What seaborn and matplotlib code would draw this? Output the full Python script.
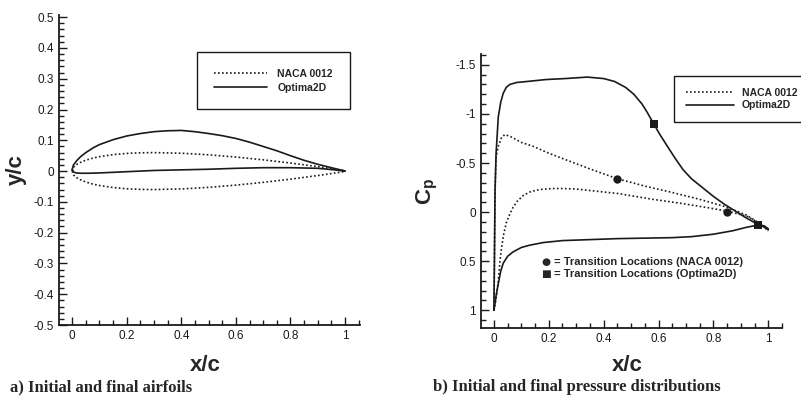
# -*- coding: utf-8 -*-
"""
Airfoil shape and Cp comparison, NACA 0012 vs Optima2D
"""

import matplotlib.pyplot as plt
import matplotlib.ticker as mticker
import seaborn as sns
import pandas as pd

sns.set_theme(style="ticks", rc={"axes.spines.right": False, "axes.spines.top": False})
plt.rcParams["font.family"] = ["Liberation Sans", "DejaVu Sans"]
plt.rcParams["axes.unicode_minus"] = False
plt.rcParams["mathtext.fontset"] = "custom"
plt.rcParams["mathtext.bf"] = "Liberation Sans:bold"
plt.rcParams["mathtext.rm"] = "Liberation Sans"

#%% Data
# a) airfoil shapes
naca_x = [0.0, 0.005, 0.0125, 0.025, 0.05, 0.075, 0.1, 0.15, 0.2, 0.25, 0.3,
          0.4, 0.5, 0.6, 0.7, 0.8, 0.9, 0.95, 1.0]
naca_upper_y = [0.0, 0.0124, 0.0189, 0.0262, 0.0355, 0.0419, 0.0468, 0.0534, 0.0574,
                0.0594, 0.0600, 0.0580, 0.0529, 0.0456, 0.0366, 0.0262, 0.0145, 0.0081, 0.0013]
naca_lower_y = [0.0, -0.0124, -0.0189, -0.0262, -0.0355, -0.0419, -0.0468, -0.0534, -0.0574,
                -0.0594, -0.0600, -0.0580, -0.0529, -0.0456, -0.0366, -0.0262, -0.0145, -0.0081, -0.0013]

opt_upper_x = [0.0, 0.005, 0.017, 0.03, 0.05, 0.078, 0.1, 0.15, 0.2, 0.25, 0.3, 0.35,
               0.4, 0.45, 0.5, 0.55, 0.6, 0.65, 0.7, 0.75, 0.8, 0.85, 0.9, 0.95, 1.0]
opt_upper_y = [0.005, 0.02, 0.034, 0.046, 0.06, 0.076, 0.086, 0.102, 0.114, 0.122, 0.128, 0.131,
               0.132, 0.128, 0.122, 0.115, 0.106, 0.094, 0.080, 0.066, 0.050, 0.035, 0.022, 0.011, 0.0]
opt_lower_x = [0.0, 0.005, 0.015, 0.03, 0.06, 0.1, 0.15, 0.2, 0.3, 0.4, 0.5, 0.6,
               0.7, 0.8, 0.9, 0.95, 1.0]
opt_lower_y = [0.005, -0.003, -0.006, -0.007, -0.007, -0.006, -0.004, -0.002, 0.002, 0.004,
               0.006, 0.009, 0.011, 0.011, 0.009, 0.005, 0.0]

# b) pressure distributions
cp_naca_upper_x = [0.0, 0.002, 0.005, 0.008, 0.016, 0.028, 0.04, 0.06, 0.1, 0.143, 0.2,
                   0.265, 0.35, 0.45, 0.55, 0.65, 0.75, 0.85, 0.92, 0.96, 1.0]
cp_naca_upper = [1.0, 0.4, -0.3, -0.56, -0.67, -0.76, -0.79, -0.77, -0.71, -0.67, -0.60,
                 -0.53, -0.44, -0.34, -0.265, -0.20, -0.13, -0.05, 0.03, 0.10, 0.19]
cp_naca_lower_x = [0.0, 0.005, 0.01, 0.016, 0.022, 0.028, 0.036, 0.046, 0.058, 0.07, 0.085,
                   0.107, 0.135, 0.168, 0.21, 0.253, 0.3, 0.35, 0.45, 0.58, 0.68, 0.78,
                   0.85, 0.92, 0.96, 1.0]
cp_naca_lower = [1.0, 0.93, 0.84, 0.70, 0.50, 0.36, 0.22, 0.10, 0.02, -0.05, -0.11,
                 -0.17, -0.21, -0.23, -0.24, -0.24, -0.235, -0.22, -0.19, -0.13, -0.09, -0.045,
                 -0.01, 0.04, 0.10, 0.18]

cp_opt_upper_x = [0.0, 0.002, 0.004, 0.008, 0.016, 0.025, 0.034, 0.045, 0.058, 0.083, 0.12,
                  0.19, 0.26, 0.34, 0.40, 0.44, 0.48, 0.51, 0.54, 0.56, 0.58, 0.605, 0.63,
                  0.66, 0.69, 0.72, 0.76, 0.80, 0.84, 0.88, 0.92, 0.965, 0.985, 1.0]
cp_opt_upper = [1.0, 0.5, -0.2, -0.6, -0.97, -1.12, -1.21, -1.27, -1.30, -1.32, -1.33,
                -1.35, -1.36, -1.375, -1.36, -1.33, -1.27, -1.20, -1.10, -1.01, -0.91, -0.79, -0.68,
                -0.55, -0.43, -0.34, -0.25, -0.16, -0.08, -0.01, 0.06, 0.13, 0.15, 0.18]
cp_opt_lower_x = [0.0, 0.004, 0.008, 0.016, 0.025, 0.034, 0.05, 0.07, 0.1, 0.13, 0.18, 0.25,
                  0.35, 0.45, 0.55, 0.65, 0.72, 0.8, 0.87, 0.92, 0.965, 0.985, 1.0]
cp_opt_lower = [1.0, 0.93, 0.85, 0.73, 0.6, 0.52, 0.45, 0.405, 0.36, 0.337, 0.31, 0.29,
                0.28, 0.27, 0.265, 0.26, 0.25, 0.225, 0.19, 0.155, 0.13, 0.14, 0.17]

# transition points
trans_naca_x = [0.45, 0.85]
trans_naca_cp = [-0.34, -0.003]
trans_opt_x = [0.582, 0.963]
trans_opt_cp = [-0.90, 0.13]

foils = ["NACA 0012", "Optima2D"]
dashes = {"NACA 0012": (1, 1.4), "Optima2D": ""}

#%% Build tables
def surf(x, y, foil, side, ycol):
    return pd.DataFrame({"x": x, ycol: y, "foil": foil, "surface": foil + side})

shape = pd.concat([
    surf(naca_x, naca_upper_y, "NACA 0012", "-u", "y"),
    surf(naca_x, naca_lower_y, "NACA 0012", "-l", "y"),
    surf(opt_upper_x, opt_upper_y, "Optima2D", "-u", "y"),
    surf(opt_lower_x, opt_lower_y, "Optima2D", "-l", "y"),
])
press = pd.concat([
    surf(cp_naca_upper_x, cp_naca_upper, "NACA 0012", "-u", "cp"),
    surf(cp_naca_lower_x, cp_naca_lower, "NACA 0012", "-l", "cp"),
    surf(cp_opt_upper_x, cp_opt_upper, "Optima2D", "-u", "cp"),
    surf(cp_opt_lower_x, cp_opt_lower, "Optima2D", "-l", "cp"),
])

#%% Figure
fig = plt.figure(figsize=(8.01, 3.98), dpi=100)
ax1 = fig.add_axes([0.0737, 0.1834, 0.3758, 0.7789])
ax2 = fig.add_axes([0.6005, 0.1759, 0.3758, 0.6884])

sns.lineplot(shape, x="x", y="y", units="surface", estimator=None, sort=False,
             style="foil", style_order=foils, dashes=dashes, color="k", lw=1.2, ax=ax1)
sns.lineplot(press, x="x", y="cp", units="surface", estimator=None, sort=False,
             style="foil", style_order=foils, dashes=dashes, color="k", lw=1.2, ax=ax2)
sns.scatterplot(x=trans_naca_x, y=trans_naca_cp, marker="o", s=36, color="k",
                edgecolor="k", linewidth=0, ax=ax2, zorder=5)
sns.scatterplot(x=trans_opt_x, y=trans_opt_cp, marker="s", s=34, color="k",
                edgecolor="k", linewidth=0, ax=ax2, zorder=5)

fmt = mticker.FuncFormatter(lambda v, p: "{:g}".format(round(v, 2) + 0))

for ax in [ax1, ax2]:
    ax.xaxis.set_major_locator(mticker.MultipleLocator(0.2))
    ax.xaxis.set_minor_locator(mticker.MultipleLocator(0.05))
    ax.xaxis.set_major_formatter(fmt)
    ax.yaxis.set_major_formatter(fmt)
    ax.tick_params(which="both", direction="in", width=1, colors="k", labelsize=8.5,
                   top=False, right=False)
    ax.tick_params(which="major", length=5.5, pad=3.5)
    ax.tick_params(which="minor", length=3.5)
    for sp in ["left", "bottom"]:
        ax.spines[sp].set_linewidth(1.3)
        ax.spines[sp].set_color("k")
    ax.set_xlabel("x/c", fontsize=16, fontweight="bold")
    ax.xaxis.set_label_coords(0.485, -0.098)

    handles, labels = ax.get_legend_handles_labels()
    keep = [(h, l) for h, l in zip(handles, labels) if l in foils]
    handles = [h for h, l in keep]
    labels = [l for h, l in keep]
    for h in handles:
        h.set_color("k")
        h.set_linewidth(1.2)
    ax.legend_ = None
    ax._keep = (handles, labels)

ax1.set_xlim(-0.048, 1.055)
ax1.set_ylim(-0.5, 0.507)
ax1.yaxis.set_major_locator(mticker.MultipleLocator(0.1))
ax1.yaxis.set_minor_locator(mticker.MultipleLocator(0.02))
ax1.set_ylabel("y/c", fontsize=16, fontweight="bold")
ax1.yaxis.set_label_coords(-0.106, 0.5)

ax2.set_xlim(-0.047, 1.05)
ax2.set_ylim(1.18, -1.61)
ax2.yaxis.set_major_locator(mticker.MultipleLocator(0.5))
ax2.yaxis.set_minor_locator(mticker.MultipleLocator(0.1))
ax2.set_ylabel(r"$\mathbf{C_p}$", fontsize=16)
ax2.yaxis.set_label_coords(-0.136, 0.5)

leg_font = {"weight": "bold", "size": 7.5}
leg1 = ax1.legend(*ax1._keep, loc="upper left", bbox_to_anchor=(0.2397, 0.8819),
                  bbox_transform=fig.transFigure, prop=leg_font, frameon=True,
                  fancybox=False, edgecolor="k", framealpha=1, borderpad=1.6,
                  handlelength=5.1, handletextpad=1.0, labelspacing=0.35)
leg1.get_frame().set_linewidth(1.0)
leg2 = ax2.legend(*ax2._keep, loc="upper left", bbox_to_anchor=(0.8352, 0.8216),
                  bbox_transform=fig.transFigure, prop=leg_font, frameon=True,
                  fancybox=False, edgecolor="k", framealpha=1, borderpad=1.1,
                  handlelength=4.6, handletextpad=0.8, labelspacing=0.25)
leg2.get_frame().set_linewidth(1.0)

# transition key
fig.text(546 / 801, 0.3417, "\u25cf", fontsize=7.5, ha="center", va="center",
         family="DejaVu Sans")
fig.text(546 / 801, 0.3116, "\u25a0", fontsize=7.5, ha="center", va="center",
         family="DejaVu Sans")
fig.text(554 / 801, 0.3417, "= Transition Locations (NACA 0012)", fontsize=8,
         fontweight="bold", va="center")
fig.text(554 / 801, 0.3116, "= Transition Locations (Optima2D)", fontsize=8,
         fontweight="bold", va="center")

fig.text(10 / 801, 1 - 387 / 398, "a) Initial and final airfoils", fontsize=12,
         fontweight="bold", family="Liberation Serif", va="center")
fig.text(433 / 801, 1 - 387 / 398, "b) Initial and final pressure distributions",
         fontsize=12, fontweight="bold", family="Liberation Serif", va="center")

fig.savefig("out.png", dpi=100)
